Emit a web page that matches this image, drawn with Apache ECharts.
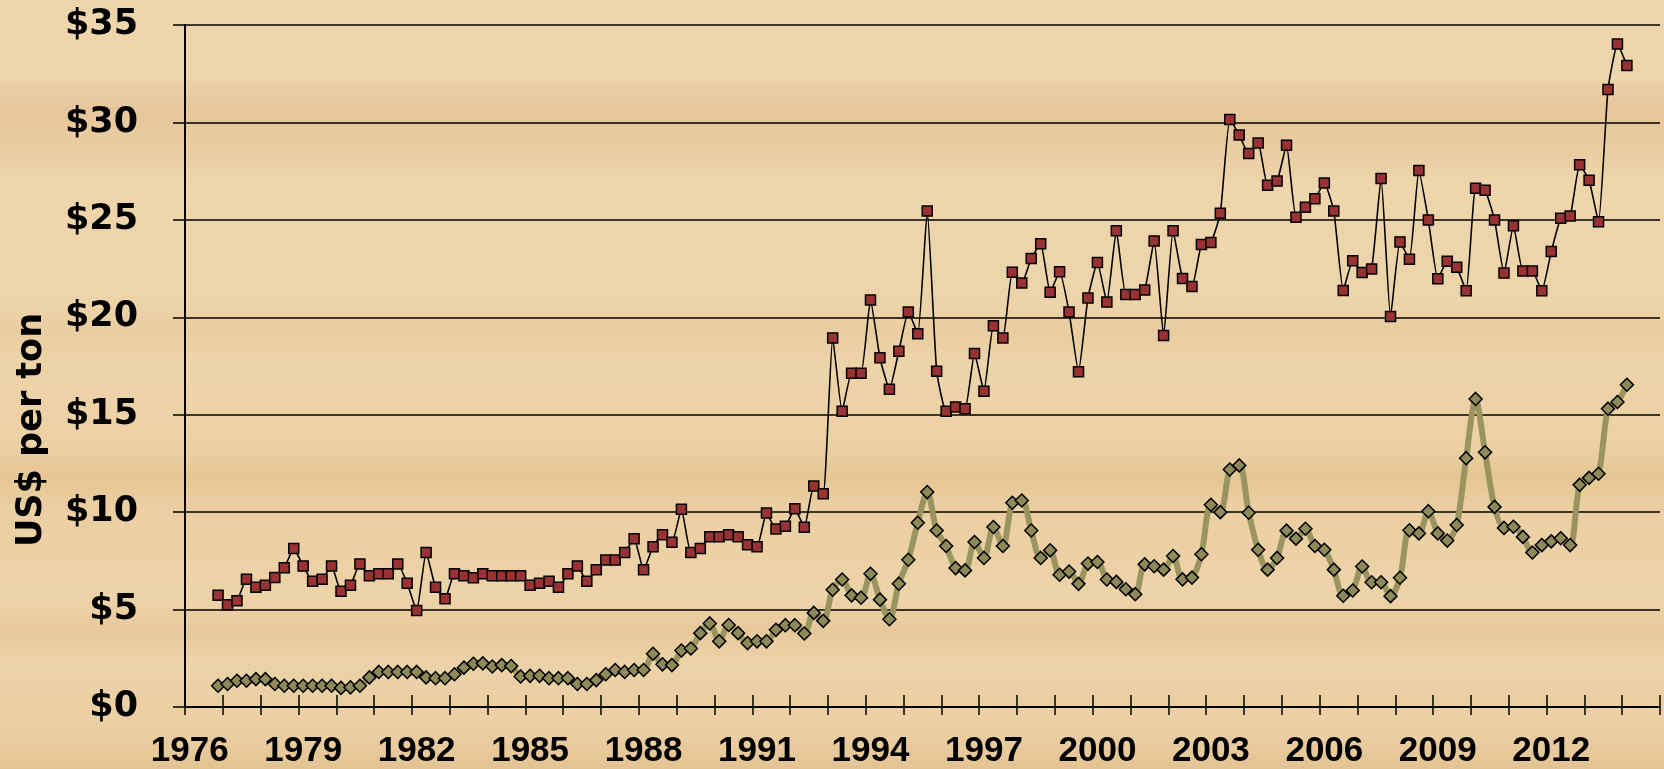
<!DOCTYPE html>
<html>
<head>
<meta charset="utf-8">
<script src="https://cdn.jsdelivr.net/npm/echarts@6/dist/echarts.min.js"></script>
<style>
html,body{margin:0;padding:0;background:#EDD3A8;}
#c{width:1664px;height:769px;}
</style>
</head>
<body>
<div id="c"></div>
<script>
// ---- data ----
const years = ['1976','1977','1978','1979','1980','1981','1982','1983','1984','1985','1986','1987','1988','1989','1990',
  '1991','1992','1993','1994','1995','1996','1997','1998','1999','2000','2001','2002','2003','2004','2005','2006',
  '2007','2008','2009','2010','2011','2012','2013','2014'];
const quarters = ['Q1','Q2','Q3','Q4'];
const tickLabels = ['1976','1979','1982','1985','1988','1991','1994','1997','2000','2003','2006','2009','2012'];
const yTicks = [0,5,10,15,20,25,30,35];
const firstPeriod = '1976 Q4';

// upper series (red squares), quarterly from 1976 Q4
const upperSeries = [
  5.74,5.25,5.45,6.55,6.14,6.25,6.65,7.14,8.13,7.24,
  6.45,6.55,7.24,5.94,6.25,7.34,6.73,6.84,6.84,7.34,
  6.35,4.95,7.93,6.14,5.56,6.84,6.73,6.63,6.84,6.73,
  6.73,6.73,6.73,6.25,6.35,6.45,6.14,6.84,7.24,6.45,
  7.04,7.54,7.54,7.93,8.64,7.04,8.23,8.84,8.45,10.15,
  7.93,8.13,8.74,8.74,8.84,8.74,8.33,8.23,9.95,9.14,
  9.27,10.18,9.22,11.34,10.94,18.94,15.18,17.13,17.13,20.89,
  17.92,16.31,18.26,20.27,19.16,25.45,17.23,15.18,15.40,15.30,
  18.14,16.21,19.57,18.94,22.31,21.76,23.02,23.78,21.28,22.34,
  20.27,17.20,20.99,22.81,20.78,24.44,21.17,21.17,21.40,23.92,
  19.06,24.44,21.99,21.58,23.74,23.84,25.34,30.15,29.35,28.40,
  28.95,26.77,26.99,28.83,25.14,25.65,26.08,26.89,25.45,21.38,
  22.90,22.30,22.48,27.12,20.04,23.87,22.98,27.53,24.99,21.98,
  22.87,22.57,21.36,26.62,26.52,24.99,22.27,24.70,22.37,22.37,
  21.36,23.37,25.08,25.20,27.83,27.03,24.90,31.69,34.02,32.92
];
// lower series (olive diamonds), quarterly from 1976 Q4
const lowerSeries = [
  1.09,1.18,1.35,1.35,1.43,1.43,1.18,1.09,1.09,1.09,
  1.09,1.09,1.09,0.98,1.01,1.09,1.52,1.80,1.80,1.80,
  1.80,1.80,1.52,1.48,1.48,1.68,2.02,2.22,2.24,2.08,
  2.15,2.10,1.57,1.60,1.60,1.48,1.48,1.48,1.18,1.18,
  1.38,1.68,1.90,1.80,1.90,1.90,2.73,2.19,2.15,2.90,
  3.00,3.79,4.29,3.37,4.21,3.79,3.28,3.37,3.37,3.96,
  4.20,4.20,3.77,4.83,4.42,6.02,6.54,5.73,5.61,6.84,
  5.51,4.50,6.33,7.56,9.46,11.03,9.06,8.26,7.13,7.01,
  8.47,7.65,9.24,8.26,10.48,10.60,9.06,7.65,8.04,6.79,
  6.95,6.32,7.36,7.44,6.54,6.42,6.04,5.79,7.32,7.22,
  7.05,7.75,6.55,6.64,7.84,10.38,10.00,12.19,12.40,9.97,
  8.07,7.05,7.65,9.05,8.64,9.15,8.26,8.07,7.05,5.71,
  5.98,7.21,6.40,6.40,5.69,6.63,9.07,8.91,10.05,8.91,
  8.54,9.34,12.77,15.81,13.07,10.27,9.19,9.25,8.73,7.93,
  8.31,8.50,8.66,8.31,11.40,11.76,11.97,15.31,15.65,16.54
];

// ---- build ----
const categories = [];
years.forEach(y => quarters.forEach(q => categories.push(y + ' ' + q)));
const startIdx = categories.indexOf(firstPeriod);
function place(arr) {
  return categories.map((c, i) => {
    const j = i - startIdx;
    return (j >= 0 && j < arr.length) ? arr[j] : null;
  });
}
const isYearStart = (i) => categories[i].endsWith('Q1');
const showLabel = (i, v) => v.endsWith('Q1') && tickLabels.indexOf(v.slice(0, 4)) >= 0;

const chart = echarts.init(document.getElementById('c'), null, {renderer: 'canvas'});
const option = {
  animation: false,
  backgroundColor: {
    type: 'linear', x: 0, y: 0, x2: 0, y2: 1,
    colorStops: [
      {offset: 0.00, color: '#EED6AC'},
      {offset: 0.10, color: '#EDD4A9'},
      {offset: 0.14, color: '#E6C79C'},
      {offset: 0.19, color: '#E9CCA0'},
      {offset: 0.24, color: '#EED5AB'},
      {offset: 0.40, color: '#EDD3A8'},
      {offset: 0.43, color: '#E9CDA0'},
      {offset: 0.47, color: '#EDD3A8'},
      {offset: 0.58, color: '#ECD1A5'},
      {offset: 0.62, color: '#E5C594'},
      {offset: 0.66, color: '#EBCFA2'},
      {offset: 0.78, color: '#EDD3A8'},
      {offset: 0.82, color: '#E7C99B'},
      {offset: 0.86, color: '#ECD2A7'},
      {offset: 0.95, color: '#EBCFA3'},
      {offset: 1.00, color: '#E3C393'}
    ]
  },
  grid: {left: 185, right: 4, top: 25, bottom: 61, containLabel: false},
  xAxis: [
    {
      type: 'category',
      data: categories,
      boundaryGap: true,
      axisLine: {show: true, lineStyle: {color: '#000', width: 2}},
      axisTick: {show: true, interval: (i) => isYearStart(i), length: 8, lineStyle: {color: '#000', width: 1.5}},
      axisLabel: {
        show: true,
        interval: showLabel,
        formatter: (v) => v.slice(0, 4),
        fontFamily: 'Liberation Sans',
        fontWeight: 'bold',
        fontSize: 35,
        color: '#000',
        margin: 27
      },
      splitLine: {show: false}
    },
    {
      type: 'category',
      data: categories,
      position: 'bottom',
      boundaryGap: true,
      axisLine: {show: false},
      axisTick: {show: true, inside: true, interval: (i) => isYearStart(i), length: 12, lineStyle: {color: '#000', width: 1.5}},
      axisLabel: {show: false},
      splitLine: {show: false}
    }
  ],
  yAxis: {
    type: 'value',
    min: yTicks[0],
    max: yTicks[yTicks.length - 1],
    interval: yTicks[1] - yTicks[0],
    axisLine: {show: true, lineStyle: {color: '#000', width: 2}},
    axisTick: {show: true, length: 12, lineStyle: {color: '#000', width: 1.5}},
    axisLabel: {
      formatter: (v) => '$' + v,
      fontFamily: 'DejaVu Sans',
      fontWeight: 'bold',
      fontSize: 35,
      color: '#000',
      margin: 47
    },
    splitLine: {show: true, lineStyle: {color: '#000', width: 1.5}}
  },
  graphic: [{
    type: 'text',
    x: 32, y: 430,
    rotation: Math.PI / 2,
    style: {
      text: 'US$ per ton',
      fontFamily: 'DejaVu Sans',
      fontWeight: 'bold',
      fontSize: 35,
      fill: '#000',
      align: 'center',
      verticalAlign: 'middle'
    }
  }],
  series: [
    {
      name: 'Lower series',
      type: 'line',
      xAxisIndex: 0,
      data: place(lowerSeries),
      smooth: 0.3,
      symbol: 'diamond',
      symbolSize: 13,
      showAllSymbol: true,
      lineStyle: {color: '#9A955F', width: 6},
      itemStyle: {color: '#8E8958', borderColor: '#000', borderWidth: 1.5},
      z: 2
    },
    {
      name: 'Upper series',
      type: 'line',
      xAxisIndex: 0,
      data: place(upperSeries),
      smooth: 0.15,
      symbol: 'rect',
      symbolSize: 10,
      showAllSymbol: true,
      lineStyle: {color: '#000', width: 1.6},
      itemStyle: {color: '#993333', borderColor: '#000', borderWidth: 1.5},
      z: 3
    }
  ]
};
chart.setOption(option);
</script>
</body>
</html>
